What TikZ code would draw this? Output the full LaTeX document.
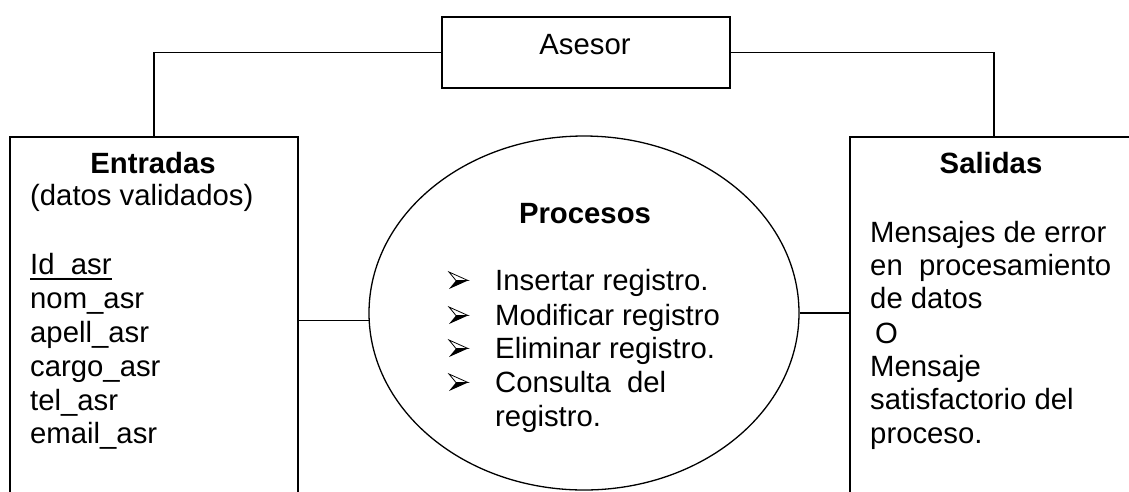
\documentclass[tikz,border=0pt]{standalone}
\usepackage{fontspec}
\setmainfont{Liberation Sans}
\usetikzlibrary{shapes.geometric}
\begin{document}
\begin{tikzpicture}[x=1pt,y=-1pt,
  txt/.style={inner sep=0pt, anchor=base west, font=\fontsize{29.3}{35}\selectfont},
  ctxt/.style={txt, anchor=base},
  btxt/.style={ctxt, font=\fontsize{29.3}{35}\selectfont\bfseries},
  frame/.style={draw, line width=1.8pt, inner sep=0pt},
  conn/.style={line width=1.6pt},
  arrowbul/.pic={
    \draw[line width=0.8pt, line join=miter] (0,-18) -- (19,-9.5) -- (7,-9.5) -- cycle;
    \fill (7,-9.5) -- (19,-9.5) -- (0,-1) -- cycle;
  }]
\clip (0,0) rectangle (1129,491);
% boxes
\node[frame, minimum width=288pt, minimum height=71pt, anchor=north west] (asesor) at (441,16) {};
\node[frame, minimum width=288pt, minimum height=420pt, anchor=north west] (lbox) at (9,136) {};
\node[frame, minimum width=288pt, minimum height=420pt, anchor=north west] (rbox) at (849,136) {};
\node[draw, ellipse, minimum width=430pt, minimum height=354pt, inner sep=0pt, line width=1.3pt] (proc) at (584,313) {};
% connectors
\draw[conn] (asesor.west) -| (lbox.north);
\draw[conn] (asesor.east) -| (rbox.north);
\draw[conn] (proc.182) -- (proc.182 -| lbox.east);
\draw[conn] (proc.east) -- (proc.east -| rbox.west);
% Asesor
\node[ctxt] (tas) at (585,54) {Asesor};
% Entradas
\node[btxt] (te) at (153,173) {Entradas};
\node[txt] (te1) at (30,205) {(datos validados)};
\node[txt] (te2) at (30,274) {Id\_asr};
\draw[line width=1.8pt] ([yshift=-5pt]te2.base west) -- ([yshift=-5pt]te2.base east);
\node[txt] (te3) at (30,308) {nom\_asr};
\node[txt] (te4) at (30,342) {apell\_asr};
\node[txt] (te5) at (30,376) {cargo\_asr};
\node[txt] (te6) at (30,410) {tel\_asr};
\node[txt] (te7) at (30,443) {email\_asr};
% Procesos
\node[btxt] (tp) at (585,223) {Procesos};
\foreach \b in {290,325,358,392} { \pic at (449,\b) {arrowbul}; }
\node[txt] (tp1) at (495,290) {Insertar registro.};
\node[txt] (tp2) at (495,325) {Modificar registro};
\node[txt] (tp3) at (495,358) {Eliminar registro.};
\node[txt] (tp4) at (495,392) {Consulta\ \ del};
\node[txt] (tp5) at (495,426) {registro.};
% Salidas
\node[btxt] (ts) at (991,173) {Salidas};
\node[txt] (ts1) at (870,242) {Mensajes de error};
\node[txt] (ts2) at (870,275) {en\ \ procesamiento};
\node[txt] (ts3) at (870,308) {de datos};
\node[txt] (ts4) at (875,343) {O};
\node[txt] (ts5) at (870,376) {Mensaje};
\node[txt] (ts6) at (870,409) {satisfactorio del};
\node[txt] (ts7) at (870,443) {proceso.};
\end{tikzpicture}
\end{document}
